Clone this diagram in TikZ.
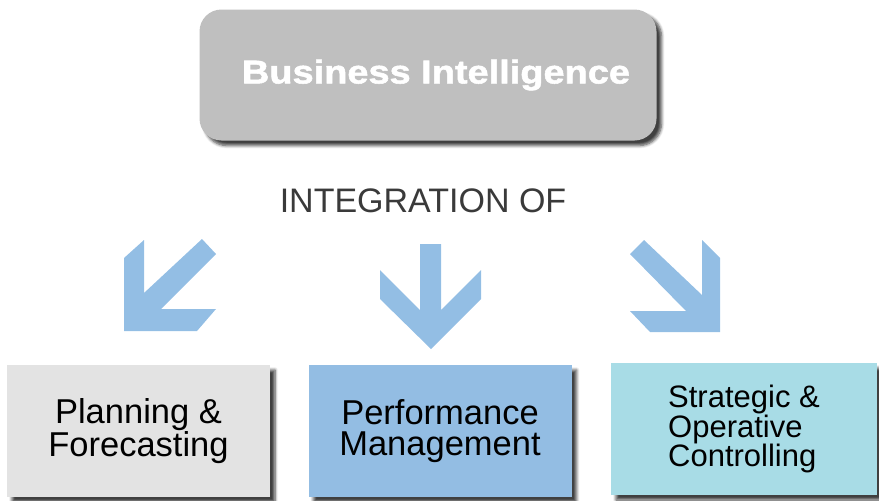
\documentclass[tikz,border=0pt]{standalone}
\usepackage{fontspec}
\setmainfont{Liberation Sans}
\newfontfamily\headfont[FakeStretch=1.15, BoldFeatures={FakeBold=1.6}]{Liberation Sans}
\usetikzlibrary{shadows.blur}
\definecolor{bigray}{RGB}{191,191,191}
\definecolor{arrowblue}{RGB}{147,190,228}
\definecolor{plangray}{RGB}{227,227,227}
\definecolor{perfblue}{RGB}{147,189,227}
\definecolor{ctrlcyan}{RGB}{168,220,230}
\definecolor{labelgray}{RGB}{58,58,58}

\begin{document}
\begin{tikzpicture}[x=1pt, y=-1pt,
    boxshadow/.style={blur shadow={shadow xshift=5pt, shadow yshift=-5pt,
      shadow blur radius=3pt, shadow blur steps=6, shadow opacity=75}},
    areabox/.style={boxshadow, minimum width=263pt, minimum height=132pt,
      inner sep=0pt, align=center, font=\fontsize{34.5}{31.7}\selectfont},
    bluearrow/.style={fill=arrowblue}]
  \useasboundingbox (0,0) rectangle (879,501);
  % Top box
  \node[boxshadow, fill=bigray, rounded corners=22pt, minimum width=457pt,
    minimum height=131pt, text=white,
    font=\headfont\bfseries\fontsize{33}{40}\selectfont]
    (bi) at (428,75) {\hspace{16pt}Business Intelligence};
  \node[font=\fontsize{34}{40}\selectfont, text=labelgray, inner sep=0pt]
    (integ) at (423,200.5) {INTEGRATION OF};
  % Arrows
  \fill[bluearrow] (124,258) -- (144,240) -- (144,293) -- (202,239) -- (216,254)
    -- (161,309) -- (216,309) -- (197,331) -- (124,331) -- cycle;
  \fill[bluearrow] (420,244) -- (441,244) -- (441,310) -- (481,270) -- (481,299)
    -- (431,349) -- (380,299) -- (380,270) -- (420,310) -- cycle;
  \fill[bluearrow] (630,254) -- (644,240) -- (702,295) -- (702,240) -- (720,258)
    -- (720,332) -- (650,332) -- (630,311) -- (686,311) -- cycle;
  % Bottom boxes
  \node[areabox, fill=plangray] (plan) at (138.5,431) {Planning \&\\Forecasting};
  \node[areabox, fill=perfblue] (perf) at (440,431) {Performance\\Management};
  \node[areabox, fill=ctrlcyan, minimum width=266pt, align=left,
    font=\fontsize{31}{27}\selectfont]
    (ctrl) at (744,429) {Strategic \&\\Operative\\Controlling};
\end{tikzpicture}
\end{document}
